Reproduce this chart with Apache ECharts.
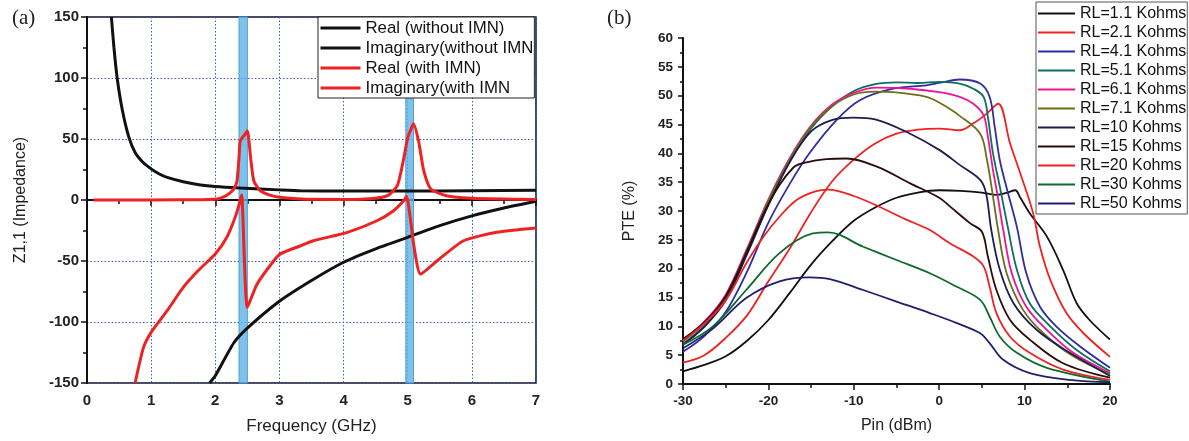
<!DOCTYPE html>
<html>
<head>
<meta charset="utf-8">
<script src="https://cdn.jsdelivr.net/npm/echarts@6/dist/echarts.min.js"></script>
<style>
  html, body { margin: 0; padding: 0; background: #fff; }
  #chart { width: 1189px; height: 441px; }
</style>
</head>
<body>
<div id="chart"></div>
<script>
// (a) impedance vs frequency, [GHz, ohm]
const realNoImn = [[0.38,150],[0.42,125],[0.47,100],[0.55,74],[0.65,52],[0.75,39],[0.88,30.5],[1.0,25.5],[1.12,21.5],[1.25,18.5],[1.5,15],[1.77,12.3],[2.0,11],[2.39,9.8],[3.0,8.3],[3.33,7.6],[4,7.3],[5,7.3],[6,7.6],[7,8]]
const imagNoImn = [[1.91,-150],[2.0,-144],[2.29,-117],[2.5,-105],[3.0,-83],[3.5,-66],[4.0,-51],[4.5,-40],[5.0,-30.6],[5.5,-21],[6.0,-13],[6.5,-6.5],[7.0,-1]]
const realImn = [[0.1,0],[1.0,0],[1.8,0.3],[2.03,0.8],[2.15,3],[2.24,6.2],[2.3,10],[2.34,16],[2.37,35],[2.39,48.6],[2.45,53],[2.5,56.8],[2.55,35],[2.6,15.8],[2.7,7.6],[2.85,4],[3.0,2.2],[3.33,0.8],[4.0,0.5],[4.5,1.5],[4.7,4],[4.84,12],[4.93,32],[5.0,51],[5.05,58],[5.09,62.5],[5.17,48],[5.25,24],[5.36,9],[5.6,3.5],[6.0,1.5],[7.0,0.5]]
const imagImn = [[0.75,-150],[0.88,-121],[1.0,-108.5],[1.25,-90.7],[1.5,-71.6],[1.75,-57],[2.0,-44.3],[2.18,-30.6],[2.31,-14.2],[2.38,-2],[2.41,4],[2.5,-88],[2.65,-69],[2.91,-50],[3.02,-44],[3.33,-37.5],[3.53,-33.4],[4.06,-26.5],[4.52,-17],[4.78,-8.8],[4.94,-0.5],[4.98,3],[5.1,-38.8],[5.2,-60.7],[5.46,-49.8],[5.87,-33.4],[6.39,-26.5],[7.0,-23]]
const bands = [[2.37, 2.5], [4.97, 5.09]]

// (b) PTE vs Pin, [dBm, %]
const pte11 = [[-30,2.2],[-27.5,3.3],[-25,4.8],[-22.5,7.5],[-20,11.1],[-17.5,15.8],[-15,20.7],[-12.5,24.8],[-10,28.3],[-7.5,30.6],[-5,32.3],[-2.5,33.2],[0,33.6],[2.5,33.5],[5,33.2],[6.7,32.8],[8,33.2],[8.9,33.6],[9.5,32.3],[10.6,29.6],[12.6,25.6],[14.5,19.8],[16.1,14],[17.6,11.1],[20,7.7]]
const pte21 = [[-30,3.7],[-27.5,5.0],[-25,8.0],[-22.5,11.9],[-20,17.8],[-17.5,23.5],[-15,29.8],[-12.5,35.2],[-10,38.9],[-7.5,41.7],[-5,43.4],[-2.5,44.1],[0,44.3],[2.4,44.0],[4.0,45.2],[5.5,46.8],[6.9,48.6],[8.3,41.7],[9.5,36.5],[11,29.6],[11.8,23.8],[13,18.1],[14.9,12.3],[16.9,8.8],[20,4.7]]
const pte41 = [[-30,5.6],[-27.5,8.3],[-25,12.5],[-22.5,19.5],[-20,28],[-17.5,34.7],[-15.2,40],[-12,45.8],[-9.3,49.2],[-5.4,51.2],[-1.5,51.8],[0,52.2],[2.4,52.8],[4.8,52.1],[5.9,49.8],[6.5,44.6],[7.1,38.8],[7.9,34],[9.1,27.2],[10.2,19.2],[11.8,13.4],[13.7,10],[16.5,6.5],[20,2.8]]
const pte51 = [[-30,7.0],[-27.5,10.1],[-25,14.8],[-22.5,22.8],[-20,31.3],[-17.5,38.6],[-15,44.3],[-12.5,48.2],[-10,50.8],[-7.5,52.0],[-5,52.3],[-2.5,52.2],[0,52.4],[2.4,52.1],[4,51.2],[5.2,49.8],[5.7,46.3],[6.3,40],[7.1,34.2],[8.1,26.7],[9.1,19.8],[10.6,14],[13,10],[16.1,5.9],[20,2.2]]
const pte61 = [[-30,7.7],[-27.5,10.8],[-25,15.5],[-22.5,23.5],[-20,32],[-17.5,39.2],[-15,44.8],[-12.5,48.5],[-10,50.5],[-7.3,51.4],[-3.4,51.2],[0,50.6],[2.4,49.8],[4,48.6],[5.2,46.6],[5.7,42.9],[6.3,37.1],[6.8,33],[7.5,26.7],[8.5,19.2],[10.2,13.4],[12.6,9.4],[15.7,5.4],[20,1.9]]
const pte71 = [[-30,7.4],[-27.5,10.5],[-25,15.2],[-22.5,23.2],[-20,31.8],[-17.5,39],[-15,44.6],[-12.5,48.2],[-10,50.2],[-7.5,50.7],[-5.4,50.6],[-1.5,49.8],[0,48.8],[2.4,46.5],[4.8,43.4],[5.6,38.8],[6.2,33.5],[6.9,26.7],[7.9,19.2],[9.8,12.9],[12.2,8.8],[15.7,4.8],[20,1.7]]
const pte10 = [[-30,6.8],[-27.5,9.9],[-25,14.5],[-22.5,22.5],[-20,31],[-17.5,38.5],[-15,43.8],[-12.5,45.8],[-10,46.2],[-7.5,45.9],[-3.4,43.4],[0,40.6],[2.4,38],[4.8,35.4],[5.5,33],[6.1,26.7],[7.1,19.8],[8.7,14],[11.4,9.4],[15.3,5.4],[20,1.4]]
const pte15 = [[-30,7.8],[-27.5,10.7],[-25,15.2],[-22.5,23],[-20,31.2],[-17.1,37.5],[-15,38.6],[-13.2,39],[-10.85,39.1],[-7.3,37.7],[-3.4,34.8],[0,32.3],[1.25,30.8],[3.6,27.9],[5,26.4],[5.7,22.1],[6.7,16.3],[8.3,11.1],[10.6,7.7],[14.5,3.6],[20,1.1]]
const pte20 = [[-30,7.5],[-27.5,10.5],[-25,14.5],[-22.6,20.9],[-20.6,25.5],[-18.7,29],[-16.7,31.9],[-14.5,33.4],[-13,33.7],[-10,32.6],[-6.95,30.7],[-4,28.6],[-1.1,26.7],[1.25,24.4],[4,22.1],[5.2,20.4],[5.9,16.9],[6.7,12.3],[8.3,8.2],[10.6,5.4],[14.5,2.5],[20,0.7]]
const pte30 = [[-30,6.8],[-26.5,10.0],[-22.6,16.3],[-18.7,22.7],[-14.8,26.1],[-13,26.3],[-8.9,23.8],[-5,21.5],[-1.1,19.2],[2,16.9],[4.8,14.6],[5.9,11.7],[7.1,8.2],[9.1,5.4],[12.6,2.8],[20,0.4]]
const pte50 = [[-30,6.2],[-26.5,9.6],[-22.6,14.9],[-18.7,17.8],[-15.2,18.5],[-12.8,18.2],[-8.9,16.3],[-5,14.3],[-1.1,12.3],[2,10.6],[4.8,8.8],[5.9,7.1],[7.5,4.2],[10.6,1.9],[15.3,0.7],[20,0.3]]

const rlNames = ['RL=1.1 Kohms','RL=2.1 Kohms','RL=4.1 Kohms','RL=5.1 Kohms','RL=6.1 Kohms','RL=7.1 Kohms','RL=10 Kohms','RL=15 Kohms','RL=20 Kohms','RL=30 Kohms','RL=50 Kohms']
const rlData = [pte11, pte21, pte41, pte51, pte61, pte71, pte10, pte15, pte20, pte30, pte50]
const rlColors = ['#111111','#ee2222','#2e2ea0','#0d6e62','#ee1399','#6e6e18','#1d1d4e','#2a0c0c','#ee2222','#0c6b2c','#20206e']

const chart = echarts.init(document.getElementById('chart'))
const font = 'Arial, "Liberation Sans", sans-serif'

const impSeries = (name, data, color) => ({
  name, type: 'line', data, xAxisIndex: 0, yAxisIndex: 0,
  symbol: 'none', smooth: 0.2, z: 3,
  lineStyle: { color, width: 3 }, itemStyle: { color }
})

const series = [
  {
    type: 'line', data: [], xAxisIndex: 0, yAxisIndex: 0, silent: true,
    markArea: {
      silent: true,
      itemStyle: { color: 'rgba(95,178,228,0.8)', borderColor: '#4aa3d8', borderWidth: 1 },
      data: bands.map(b => [{ xAxis: b[0] }, { xAxis: b[1] }])
    }
  },
  impSeries('Real (without IMN)', realNoImn, '#111'),
  impSeries('Imaginary(without IMN', imagNoImn, '#111'),
  impSeries('Real (with IMN)', realImn, '#ee2222'),
  impSeries('Imaginary(with IMN', imagImn, '#ee2222')
]
rlNames.forEach((name, i) => {
  series.push({
    name, type: 'line', data: rlData[i], xAxisIndex: 1, yAxisIndex: 1,
    symbol: 'none', smooth: 0.35,
    lineStyle: { color: rlColors[i], width: 1.8 }, itemStyle: { color: rlColors[i] }
  })
})

const option = {
  backgroundColor: '#fff',
  animation: false,
  textStyle: { fontFamily: font },
  graphic: [
    { type: 'text', left: 12, top: 8, style: { text: '(a)', font: '21px "Liberation Serif", serif', fill: '#222' } },
    { type: 'text', left: 607, top: 8, style: { text: '(b)', font: '21px "Liberation Serif", serif', fill: '#222' } }
  ],
  grid: [
    { left: 87, top: 17, width: 449, height: 366, show: true, borderColor: '#111', borderWidth: 1.5, backgroundColor: 'transparent' },
    { left: 683, top: 38, width: 427, height: 346 }
  ],
  legend: [
    {
      data: ['Real (without IMN)', 'Imaginary(without IMN', 'Real (with IMN)', 'Imaginary(with IMN'],
      orient: 'vertical', left: 318, top: 17, padding: [1, 1, 0, 1],
      itemWidth: 40, itemHeight: 20.7, itemGap: 0,
      backgroundColor: '#fff', borderColor: '#222', borderWidth: 1, borderRadius: 0,
      itemStyle: { opacity: 0 },
      lineStyle: { width: 3 },
      textStyle: { fontSize: 16.8, color: '#111', lineHeight: 20, fontFamily: font }
    },
    {
      data: rlNames,
      orient: 'vertical', left: 1036, top: 2, padding: [2, 1, 1, 1],
      itemWidth: 37, itemHeight: 19.6, itemGap: 0,
      backgroundColor: '#fff', borderColor: '#555', borderWidth: 1, borderRadius: 0,
      itemStyle: { opacity: 0 },
      lineStyle: { width: 2 },
      textStyle: { fontSize: 16, color: '#111', lineHeight: 19, fontFamily: font }
    }
  ],
  xAxis: [
    {
      gridIndex: 0, type: 'value', min: 0, max: 7, interval: 1,
      name: 'Frequency (GHz)', nameLocation: 'middle', nameGap: 35,
      nameTextStyle: { fontSize: 17, color: '#222' },
      axisLine: { lineStyle: { color: '#111', width: 2 } },
      axisTick: { length: 6, lineStyle: { color: '#111', width: 1.5 } },
      minorTick: { show: true, splitNumber: 2, length: 4, lineStyle: { color: '#111', width: 1.5 } },
      axisLabel: { fontSize: 15, fontWeight: 'bold', color: '#222', margin: 10 },
      splitLine: { show: true, lineStyle: { color: '#3a5cc8', type: [1.5, 2], width: 1 } }
    },
    {
      gridIndex: 1, type: 'value', min: -30, max: 20, interval: 10,
      name: 'Pin (dBm)', nameLocation: 'middle', nameGap: 34,
      nameTextStyle: { fontSize: 16, color: '#222' },
      axisLine: { onZero: false, lineStyle: { color: '#111', width: 2 } },
      axisTick: { length: 6, lineStyle: { color: '#111', width: 1.5 } },
      minorTick: { show: true, splitNumber: 2, length: 4, lineStyle: { color: '#111', width: 1.5 } },
      axisLabel: { fontSize: 13.5, fontWeight: 'bold', color: '#222', margin: 10 },
      splitLine: { show: false }
    }
  ],
  yAxis: [
    {
      gridIndex: 0, type: 'value', min: -150, max: 150, interval: 50,
      name: 'Z1,1 (Impedance)', nameLocation: 'middle', nameGap: 58,
      nameTextStyle: { fontSize: 16, color: '#222' },
      axisLine: { show: true, onZero: false, lineStyle: { color: '#111', width: 2 } },
      axisTick: { show: true, length: 6, lineStyle: { color: '#111', width: 1.5 } },
      minorTick: { show: true, splitNumber: 2, length: 4, lineStyle: { color: '#111', width: 1.5 } },
      axisLabel: { fontSize: 15, fontWeight: 'bold', color: '#222', margin: 8 },
      splitLine: { show: true, lineStyle: { color: '#3a5cc8', type: [1.5, 2], width: 1 } }
    },
    {
      gridIndex: 1, type: 'value', min: 0, max: 60, interval: 5,
      name: 'PTE (%)', nameLocation: 'middle', nameGap: 45,
      nameTextStyle: { fontSize: 16, color: '#222' },
      axisLine: { show: true, onZero: false, lineStyle: { color: '#111', width: 2 } },
      axisTick: { show: true, length: 5, lineStyle: { color: '#111', width: 1.5 } },
      minorTick: { show: true, splitNumber: 2, length: 3, lineStyle: { color: '#111', width: 1.5 } },
      axisLabel: { fontSize: 13.5, fontWeight: 'bold', color: '#222', margin: 10 },
      splitLine: { show: false }
    }
  ],
  series
}

chart.setOption(option)
</script>
</body>
</html>
